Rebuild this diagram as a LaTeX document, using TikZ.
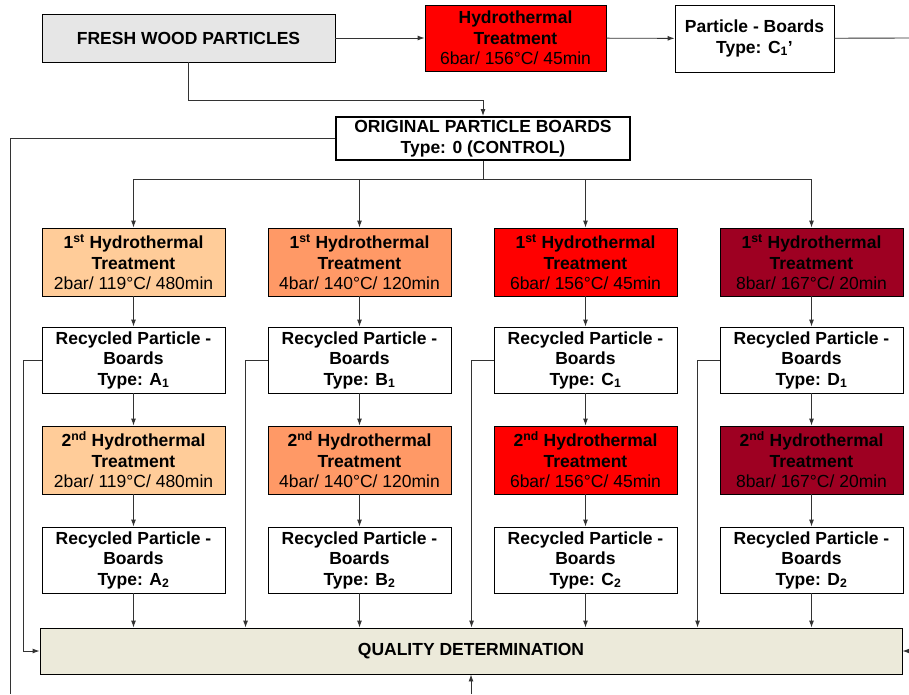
\documentclass[tikz,border=0pt]{standalone}
\usepackage{fontspec}
\setmainfont{Liberation Sans}
\usepackage{tikz}
\usetikzlibrary{positioning,arrows.meta}
\definecolor{grayfill}{HTML}{E6E6E6}
\definecolor{qualfill}{HTML}{ECEADA}
\definecolor{hydroA}{HTML}{FFCC99}
\definecolor{hydroB}{HTML}{FF9966}
\definecolor{hydroC}{HTML}{FF0000}
\definecolor{hydroD}{HTML}{9E0022}
\definecolor{linegray}{HTML}{333333}

\begin{document}
\begin{tikzpicture}[x=1pt,y=1pt,node distance=100pt,
    box/.style={draw, align=center, inner sep=1pt, line width=0.9pt,
        font=\fontsize{17.5}{20.5}\selectfont\bfseries},
    treat/.style={box, minimum width=183pt, minimum height=68pt},
    board/.style={box, fill=white, minimum width=183pt, minimum height=66pt},
    conn/.style={draw=linegray, line width=0.9pt},
    arr/.style={conn, -{Latex[length=7pt,width=5pt]}}]
    \useasboundingbox (0,0) rectangle (909,-694);

    % top row
    \node[box, fill=grayfill, minimum width=293pt, minimum height=48pt] (fwp) at (188.5,-38) {FRESH WOOD PARTICLES};
    \node[box, fill=hydroC, minimum width=181pt, minimum height=66pt] (ht) at (515.5,-38) {Hydrothermal\\Treatment\\{\mdseries 6bar/ 156°C/ 45min}};
    \node[box, fill=white, minimum width=159pt, minimum height=67pt] (pb) at (754.5,-38.5) {Particle - Boards\\Type: C\textsubscript{1}'};
    \coordinate (outR) at (909,-38);

    \node[box, line width=2pt, fill=white, minimum width=294pt, minimum height=43pt] (opb) at (483,-138.5) {ORIGINAL PARTICLE BOARDS\\Type: 0 (CONTROL)};
    \coordinate (outBL) at (10,-694);

    % column A
    \node[treat, fill=hydroA] (t1a) at (133.5,-262) {1\textsuperscript{st} Hydrothermal\\Treatment\\{\mdseries 2bar/ 119°C/ 480min}};
    \node[board] (r1a) [below of=t1a, yshift=2pt] {Recycled Particle -\\Boards\\Type: A\textsubscript{1}};
    \node[treat, fill=hydroA] (t2a) [below of=r1a] {2\textsuperscript{nd} Hydrothermal\\Treatment\\{\mdseries 2bar/ 119°C/ 480min}};
    \node[board] (r2a) [below of=t2a] {Recycled Particle -\\Boards\\Type: A\textsubscript{2}};

    % column B
    \node[treat, fill=hydroB] (t1b) at (359.5,-262) {1\textsuperscript{st} Hydrothermal\\Treatment\\{\mdseries 4bar/ 140°C/ 120min}};
    \node[board] (r1b) [below of=t1b, yshift=2pt] {Recycled Particle -\\Boards\\Type: B\textsubscript{1}};
    \node[treat, fill=hydroB] (t2b) [below of=r1b] {2\textsuperscript{nd} Hydrothermal\\Treatment\\{\mdseries 4bar/ 140°C/ 120min}};
    \node[board] (r2b) [below of=t2b] {Recycled Particle -\\Boards\\Type: B\textsubscript{2}};

    % column C
    \node[treat, fill=hydroC] (t1c) at (585.5,-262) {1\textsuperscript{st} Hydrothermal\\Treatment\\{\mdseries 6bar/ 156°C/ 45min}};
    \node[board] (r1c) [below of=t1c, yshift=2pt] {Recycled Particle -\\Boards\\Type: C\textsubscript{1}};
    \node[treat, fill=hydroC] (t2c) [below of=r1c] {2\textsuperscript{nd} Hydrothermal\\Treatment\\{\mdseries 6bar/ 156°C/ 45min}};
    \node[board] (r2c) [below of=t2c] {Recycled Particle -\\Boards\\Type: C\textsubscript{2}};

    % column D
    \node[treat, fill=hydroD] (t1d) at (811.5,-262) {1\textsuperscript{st} Hydrothermal\\Treatment\\{\mdseries 8bar/ 167°C/ 20min}};
    \node[board] (r1d) [below of=t1d, yshift=2pt] {Recycled Particle -\\Boards\\Type: D\textsubscript{1}};
    \node[treat, fill=hydroD] (t2d) [below of=r1d] {2\textsuperscript{nd} Hydrothermal\\Treatment\\{\mdseries 8bar/ 167°C/ 20min}};
    \node[board] (r2d) [below of=t2d] {Recycled Particle -\\Boards\\Type: D\textsubscript{2}};

    \node[box, fill=qualfill, minimum width=862pt, minimum height=46pt] (qd) at (471,-651) {QUALITY DETERMINATION};
    \coordinate (inB) at (471,-694);
    \coordinate (inR) at (909,-651);

    % connectors
    \draw[arr] (fwp) -- (ht);
    \draw[arr] (ht) -- (pb);
    \draw[conn] (pb) -- (outR);
    \draw[arr] (fwp.south) -- ++(0,-38) -| (opb.north);
    \draw[conn] (opb.west) -| (outBL);
    \draw[conn] (opb.south) -- ++(0,-18) coordinate (bus);
    \draw[conn] (t1a.north |- bus) -- (t1d.north |- bus);
    \draw[arr] (t1a.north |- bus) -- (t1a);
    \draw[arr] (t1b.north |- bus) -- (t1b);
    \draw[arr] (t1c.north |- bus) -- (t1c);
    \draw[arr] (t1d.north |- bus) -- (t1d);

    \draw[arr] (t1a) -- (r1a);
    \draw[arr] (r1a) -- (t2a);
    \draw[arr] (t2a) -- (r2a);
    \draw[arr] (r2a.south) -- (r2a.south |- qd.north);
    \draw[arr] (t1b) -- (r1b);
    \draw[arr] (r1b) -- (t2b);
    \draw[arr] (t2b) -- (r2b);
    \draw[arr] (r2b.south) -- (r2b.south |- qd.north);
    \draw[arr] (t1c) -- (r1c);
    \draw[arr] (r1c) -- (t2c);
    \draw[arr] (t2c) -- (r2c);
    \draw[arr] (r2c.south) -- (r2c.south |- qd.north);
    \draw[arr] (t1d) -- (r1d);
    \draw[arr] (r1d) -- (t2d);
    \draw[arr] (t2d) -- (r2d);
    \draw[arr] (r2d.south) -- (r2d.south |- qd.north);

    % bypass of the 2nd treatment
    \draw[arr] (r1a.west) -- ++(-18,0) |- (qd.west);
    \draw[arr] (r1b.west) -- ++(-22,0) coordinate (kb) -- (kb |- qd.north);
    \draw[arr] (r1c.west) -- ++(-22,0) coordinate (kc) -- (kc |- qd.north);
    \draw[arr] (r1d.west) -- ++(-22,0) coordinate (kd) -- (kd |- qd.north);

    \draw[arr] (inB) -- (qd);
    \draw[arr] (inR) -- (qd);
\end{tikzpicture}
\end{document}
